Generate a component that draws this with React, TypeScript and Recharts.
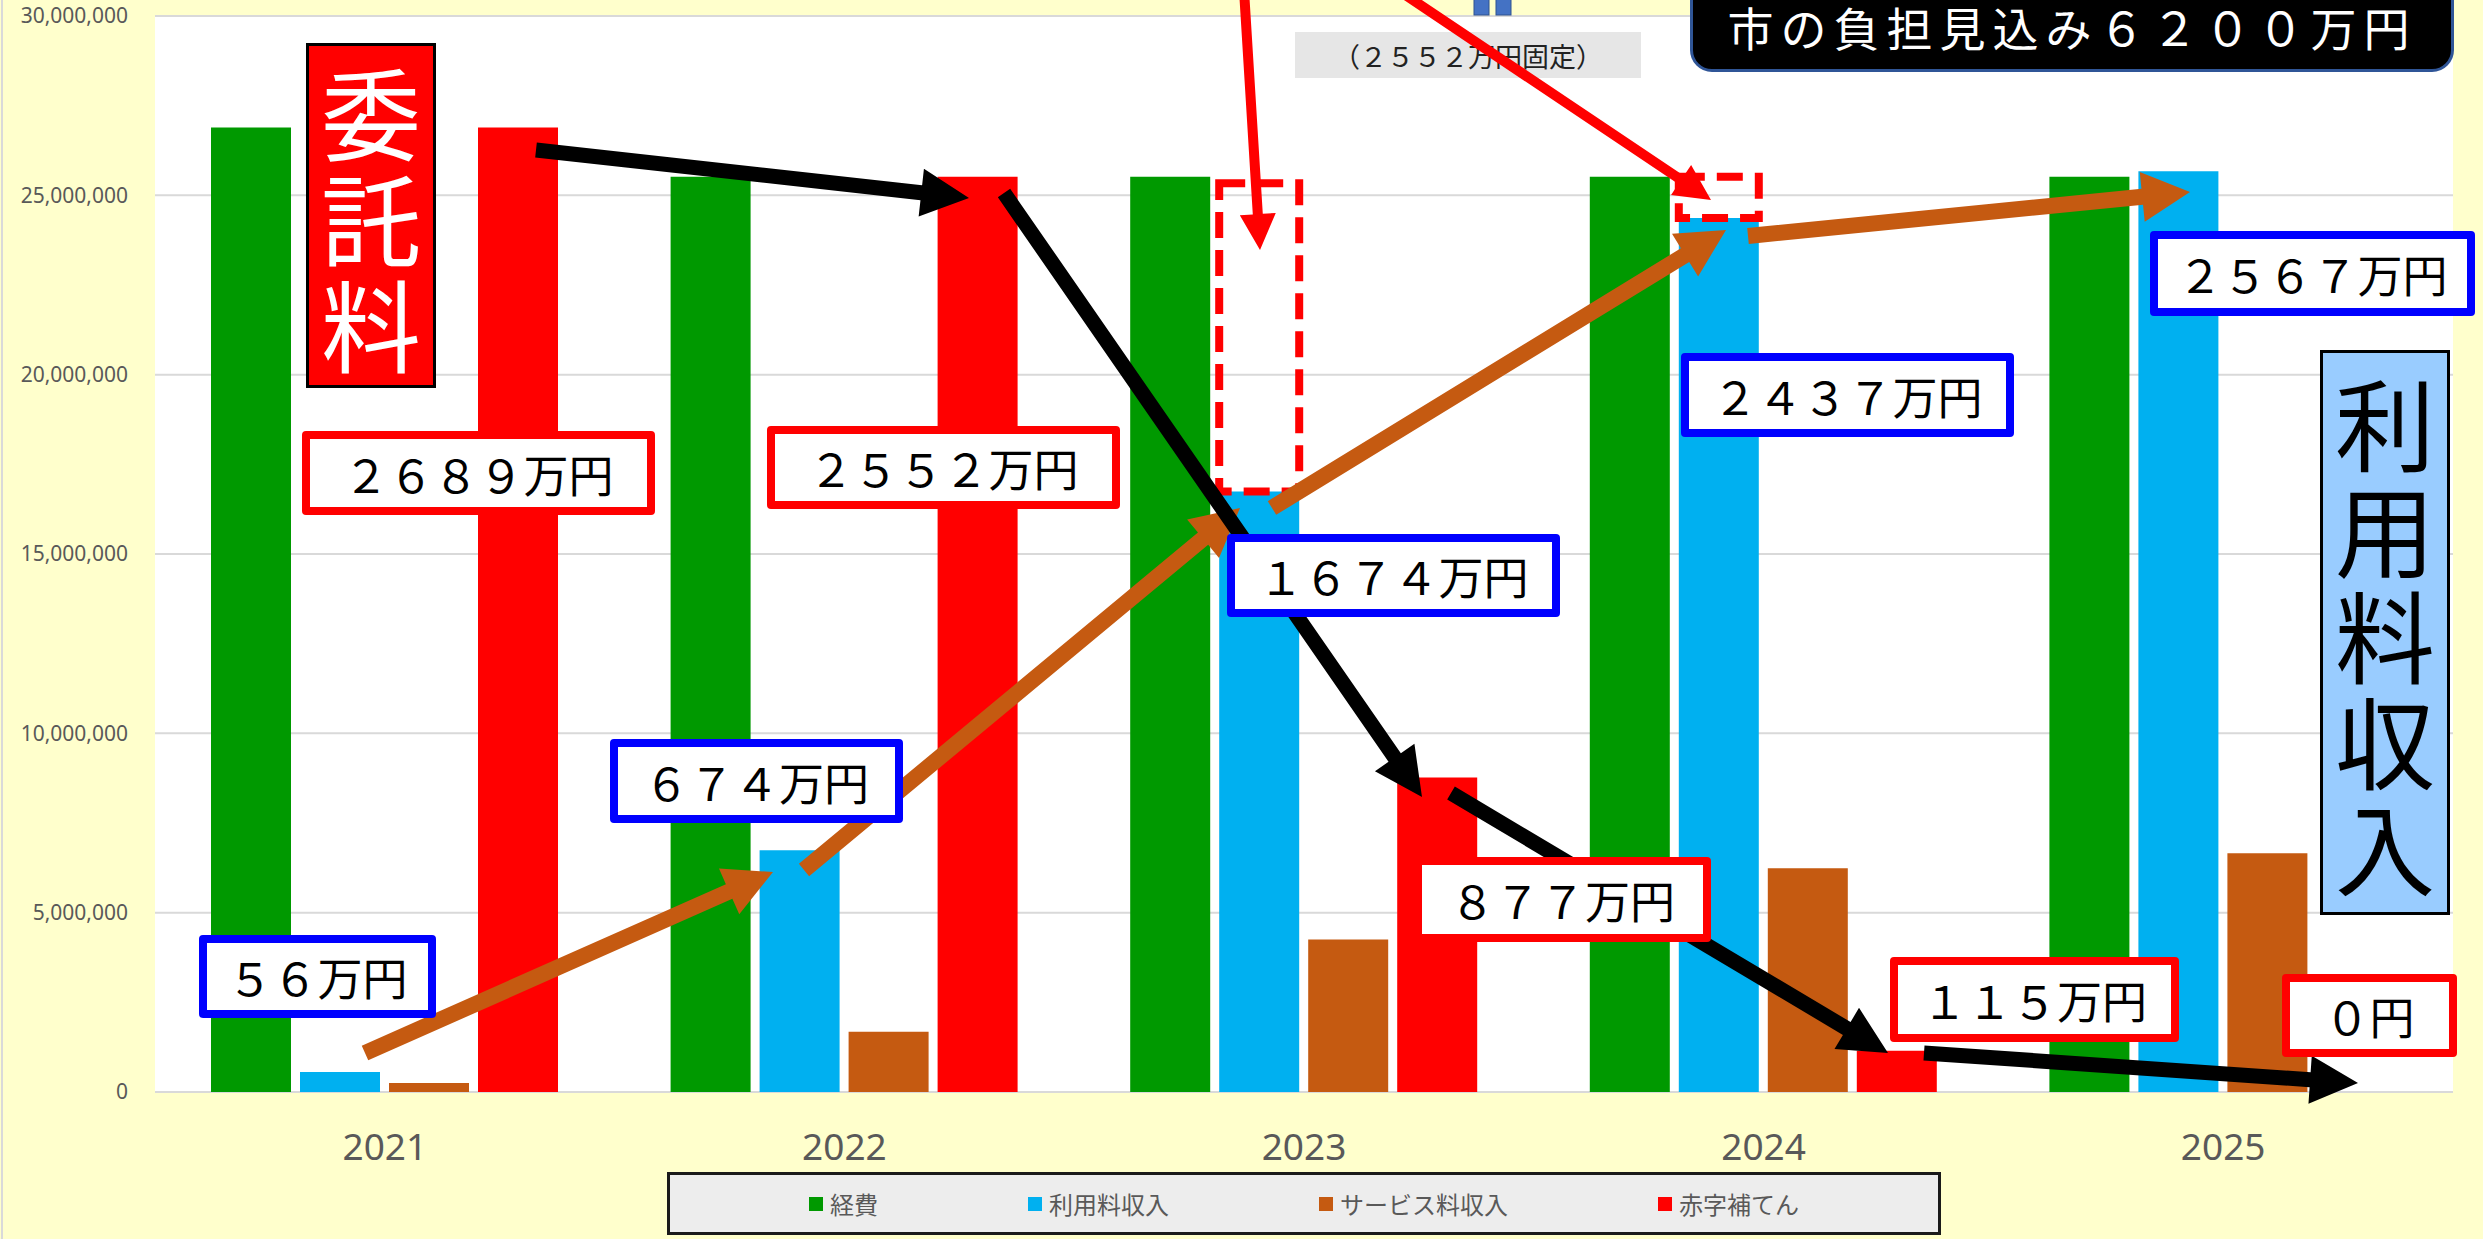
import React from 'react';
import { BarChart, Bar, XAxis, YAxis, CartesianGrid, Legend } from 'recharts';

const years = ['2021', '2022', '2023', '2024', '2025'];
const keihi = [26890000, 25520000, 25520000, 25520000, 25520000];
const riyouryou = [560000, 6740000, 16740000, 24370000, 25670000];
const service = [250000, 1680000, 4250000, 6240000, 6660000];
const akaji = [26890000, 25520000, 8770000, 1150000, 0];
// dashed outline stacked on the 利用料収入 bar (shortfall up to the 経費 level)
const fusoku = [0, 0, 8600000, 1150000, 0];
const yTicks = [0, 5000000, 10000000, 15000000, 20000000, 25000000, 30000000];
const seriesOrder = ['経費', '利用料収入', 'サービス料収入', '赤字補てん'];

const data = years.map((year, i) => ({
  year,
  経費: keihi[i],
  利用料収入: riyouryou[i],
  不足: fusoku[i],
  サービス料収入: service[i],
  赤字補てん: akaji[i],
}));

const RED = '#FF0000';
const BLUE = '#0000FF';
const JP = '"Noto Sans CJK JP", "Noto Sans", sans-serif';

interface BoxProps {
  text: string;
  color: string;
  x: number;
  y: number;
  w: number;
  h: number;
}

const valueBoxes: BoxProps[] = [
  { text: '２６８９万円', color: RED, x: 302, y: 431, w: 353, h: 84 },
  { text: '２５５２万円', color: RED, x: 767, y: 426, w: 353, h: 83 },
  { text: '６７４万円', color: BLUE, x: 610, y: 739, w: 293, h: 84 },
  { text: '５６万円', color: BLUE, x: 199, y: 935, w: 237, h: 83 },
  { text: '１６７４万円', color: BLUE, x: 1227, y: 534, w: 333, h: 83 },
  { text: '２４３７万円', color: BLUE, x: 1681, y: 353, w: 333, h: 84 },
  { text: '２５６７万円', color: BLUE, x: 2150, y: 231, w: 325, h: 85 },
  { text: '８７７万円', color: RED, x: 1414, y: 857, w: 297, h: 85 },
  { text: '１１５万円', color: RED, x: 1890, y: 957, w: 289, h: 85 },
  { text: '０円', color: RED, x: 2282, y: 974, w: 175, h: 83 },
];

interface Arrow {
  from: [number, number];
  to: [number, number];
  color: string;
  w: number;
  hl: number;
  hw: number;
}

const arrows: Arrow[] = [
  // orange: 利用料収入 rising
  { from: [365, 1053], to: [773, 872], color: '#C55A11', w: 16, hl: 48, hw: 25 },
  { from: [804, 870], to: [1240, 508], color: '#C55A11', w: 16, hl: 48, hw: 25 },
  { from: [1272, 508], to: [1726, 230], color: '#C55A11', w: 16, hl: 48, hw: 25 },
  { from: [1748, 236], to: [2190, 192], color: '#C55A11', w: 16, hl: 48, hw: 25 },
  // black: 委託料 falling
  { from: [536, 150], to: [969, 198], color: '#000000', w: 15, hl: 48, hw: 24 },
  { from: [1004, 193], to: [1422, 797], color: '#000000', w: 15, hl: 48, hw: 24 },
  { from: [1451, 793], to: [1888, 1053], color: '#000000', w: 15, hl: 48, hw: 24 },
  { from: [1924, 1053], to: [2358, 1083], color: '#000000', w: 15, hl: 48, hw: 24 },
  // red pointers from the top
  { from: [1244, -10], to: [1260, 250], color: RED, w: 10, hl: 36, hw: 18 },
  { from: [1398, -10], to: [1711, 200], color: RED, w: 10, hl: 36, hw: 18 },
];

const arrowPoints = (a: Arrow) => {
  const [x1, y1] = a.from;
  const [x2, y2] = a.to;
  const len = Math.hypot(x2 - x1, y2 - y1);
  const ux = (x2 - x1) / len;
  const uy = (y2 - y1) / len;
  const nx = -uy;
  const ny = ux;
  const bx = x2 - ux * a.hl;
  const by = y2 - uy * a.hl;
  const h = a.w / 2;
  const pts = [
    [x1 + nx * h, y1 + ny * h],
    [bx + nx * h, by + ny * h],
    [bx + nx * a.hw, by + ny * a.hw],
    [x2, y2],
    [bx - nx * a.hw, by - ny * a.hw],
    [bx - nx * h, by - ny * h],
    [x1 - nx * h, y1 - ny * h],
  ];
  return pts.map((p) => p.join(',')).join(' ');
};

const ValueBox = ({ text, color, x, y, w, h }: BoxProps) => (
  <div
    style={{
      position: 'absolute',
      left: x,
      top: y,
      width: w,
      height: h,
      boxSizing: 'border-box',
      border: `8px solid ${color}`,
      borderRadius: 4,
      background: '#FFFFFF',
      display: 'flex',
      alignItems: 'center',
      justifyContent: 'center',
      fontFamily: JP,
      fontSize: 45,
      color: '#000',
      whiteSpace: 'nowrap',
    }}
  >
    {text}
  </div>
);

const VerticalBox = ({ text, x, y, w, h, bg, fg }: { text: string; x: number; y: number; w: number; h: number; bg: string; fg: string }) => (
  <div
    style={{
      position: 'absolute',
      left: x,
      top: y,
      width: w,
      height: h,
      boxSizing: 'border-box',
      border: '3px solid #000',
      background: bg,
      color: fg,
      display: 'flex',
      flexDirection: 'column',
      alignItems: 'center',
      justifyContent: 'center',
      fontFamily: JP,
      fontSize: 100,
    }}
  >
    {text.split('').map((c, i) => (
      <div key={i} style={{ lineHeight: '106px' }}>{c}</div>
    ))}
  </div>
);

const renderLegend = (props: any) => {
  const items = (props.payload || [])
    .filter((p: any) => seriesOrder.includes(p.value))
    .sort((a: any, b: any) => seriesOrder.indexOf(a.value) - seriesOrder.indexOf(b.value));
  return (
    <div
      style={{
        boxSizing: 'border-box',
        width: 1274,
        height: 63,
        border: '3px solid #1A1A1A',
        background: '#EDEDED',
        display: 'flex',
        alignItems: 'center',
        justifyContent: 'center',
        gap: 150,
      }}
    >
      {items.map((p: any) => (
        <div key={p.value} style={{ display: 'flex', alignItems: 'center' }}>
          <span style={{ width: 14, height: 14, background: p.color, marginRight: 7, display: 'inline-block' }} />
          <span style={{ fontFamily: JP, fontSize: 24, color: '#595959' }}>{p.value}</span>
        </div>
      ))}
    </div>
  );
};

export default function App() {
  return (
    <div style={{ position: 'absolute', left: 0, top: 0, width: 2483, height: 1239, background: '#FFFFCC', overflow: 'hidden' }}>
      <div style={{ position: 'absolute', left: 1, top: 0, width: 2, height: 1239, background: '#D9D9D9' }} />
      <BarChart
        width={2483}
        height={1239}
        data={data}
        margin={{ top: 16, right: 30, bottom: 67, left: 0 }}
        barCategoryGap={56}
        barGap={9}
      >
        <CartesianGrid vertical={false} stroke="#D9D9D9" strokeWidth={2} fill="#FFFFFF" />
        <XAxis
          dataKey="year"
          axisLine={false}
          tickLine={false}
          tickSize={0}
          tickMargin={42}
          height={80}
          tick={{ fill: '#595959', fontSize: 37, fontFamily: 'Noto Sans' }}
        />
        <YAxis
          width={155}
          domain={[0, 30000000]}
          ticks={yTicks}
          interval={0}
          axisLine={false}
          tickLine={false}
          tickSize={0}
          tickMargin={27}
          tickFormatter={(v: number) => v.toLocaleString('en-US')}
          tick={{ fill: '#595959', fontSize: 21, fontFamily: 'Noto Sans' }}
        />
        <Bar dataKey="経費" stackId="a" fill="#009900" isAnimationActive={false} />
        <Bar dataKey="利用料収入" stackId="b" fill="#00B0F0" isAnimationActive={false} />
        <Bar
          dataKey="不足"
          stackId="b"
          fill="none"
          stroke={RED}
          strokeWidth={8}
          strokeDasharray="26 12"
          legendType="none"
          isAnimationActive={false}
        />
        <Bar dataKey="サービス料収入" stackId="c" fill="#C55A11" isAnimationActive={false} />
        <Bar dataKey="赤字補てん" stackId="d" fill="#FF0000" isAnimationActive={false} />
        <Legend
          layout="horizontal"
          verticalAlign="middle"
          align="center"
          wrapperStyle={{ left: 667, top: 1172, width: 1274, height: 63 }}
          content={renderLegend}
        />
      </BarChart>

      {/* small label under the red pointer */}
      <div
        style={{
          position: 'absolute',
          left: 1295,
          top: 32,
          width: 346,
          height: 46,
          background: '#E6E6E6',
          display: 'flex',
          alignItems: 'center',
          justifyContent: 'center',
          fontFamily: JP,
          fontSize: 27,
          color: '#222',
        }}
      >
        （２５５２万円固定）
      </div>

      <svg width={2483} height={1239} style={{ position: 'absolute', left: 0, top: 0, pointerEvents: 'none' }}>
        <rect x={1474} y={-4} width={15} height={19} fill="#4472C4" stroke="#2F528F" strokeWidth={1} />
        <rect x={1496} y={-4} width={15} height={19} fill="#4472C4" stroke="#2F528F" strokeWidth={1} />
        {arrows.map((a, i) => (
          <polygon key={i} points={arrowPoints(a)} fill={a.color} />
        ))}
      </svg>

      {valueBoxes.map((b) => (
        <ValueBox key={b.text} {...b} />
      ))}

      <VerticalBox text="委託料" x={306} y={43} w={130} h={345} bg="#FF0000" fg="#FFFFFF" />
      <VerticalBox text="利用料収入" x={2320} y={350} w={130} h={565} bg="#99CCFF" fg="#000000" />

      <div
        style={{
          position: 'absolute',
          left: 1690,
          top: -40,
          width: 764,
          height: 112,
          boxSizing: 'border-box',
          background: '#000',
          border: '3px solid #2F5597',
          borderRadius: 22,
          color: '#FFF',
          fontFamily: JP,
          fontSize: 46,
          letterSpacing: 7,
          display: 'flex',
          justifyContent: 'center',
          alignItems: 'flex-start',
          paddingTop: 34,
          lineHeight: '58px',
          whiteSpace: 'nowrap',
        }}
      >
        市の負担見込み６２００万円
      </div>
    </div>
  );
}
